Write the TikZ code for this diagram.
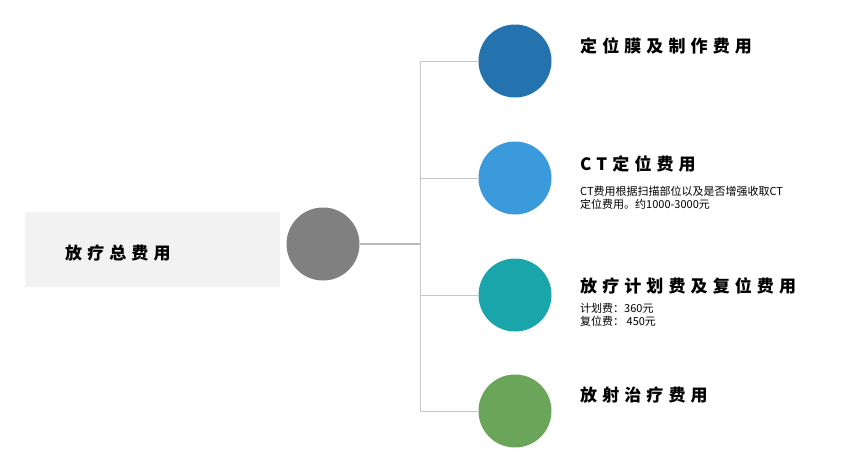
\documentclass[tikz,border=0pt]{standalone}
\usepackage{fontspec}
\setmainfont{Noto Sans CJK SC}
\newfontfamily\spaced[LetterSpace=30]{Noto Sans CJK SC}
\begin{document}
\begin{tikzpicture}[x=1pt,y=-1pt,
  dot/.style={circle,minimum size=73pt,inner sep=0pt},
  ttl/.style={anchor=west,inner sep=0pt,font=\spaced\fontsize{17}{20}\selectfont\bfseries},
  sm/.style={anchor=west,inner sep=0pt,font=\fontsize{11}{13}\selectfont,align=left},
  br/.style={draw=black!22,line width=0.8pt}]
\useasboundingbox (0,0) rectangle (866,463);
\node[fill=black!5,minimum width=255pt,minimum height=75pt,inner sep=0pt] (root) at (152.5,249.5) {};
\node[anchor=west,inner sep=0pt,font=\spaced\fontsize{17}{20}\selectfont\bfseries] (rt) at (65,253) {放疗总费用};
\node[dot,fill=black!50] (c0) at (323,244) {};
\coordinate (j) at (420,244);
\coordinate (t) at (420,61);
\coordinate (b) at (420,411);
\node[dot,fill={rgb,255:red,36;green,114;blue,174}] (c1) at (515,61) {};
\node[dot,fill={rgb,255:red,58;green,154;blue,220}] (c2) at (515,178) {};
\node[dot,fill={rgb,255:red,26;green,165;blue,171}] (c3) at (515,295) {};
\node[dot,fill={rgb,255:red,106;green,165;blue,90}] (c4) at (515,411) {};
\draw[draw=black!28,line width=1.6pt] (c0) -- (j);
\draw[br] (t) -- (b);
\draw[br] (t) -- (c1);
\draw[br] (420,178) -- (c2);
\draw[br] (420,295) -- (c3);
\draw[br] (b) -- (c4);
\node[ttl] (l1) at (580,46) {定位膜及制作费用};
\node[ttl] (l2) at (580,164) {CT定位费用};
\node[sm] (d2) at (580,198) {CT费用根据扫描部位以及是否增强收取CT\\定位费用。约1000-3000元};
\node[ttl] (l3) at (580,286) {放疗计划费及复位费用};
\node[sm] (d3) at (580,315) {计划费：360元\\复位费： 450元};
\node[ttl] (l4) at (580,395) {放射治疗费用};
\end{tikzpicture}
\end{document}
